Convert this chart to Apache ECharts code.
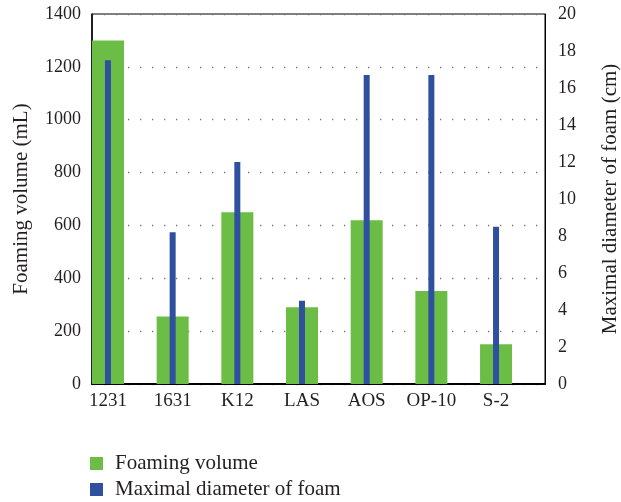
<!DOCTYPE html>
<html>
<head>
<meta charset="utf-8">
<script src="https://cdn.jsdelivr.net/npm/echarts@6/dist/echarts.min.js"></script>
<style>
  html, body { margin: 0; padding: 0; background: #fff; }
  #chart { width: 621px; height: 502px; }
</style>
</head>
<body>
<div id="chart"></div>
<script>
// Surfactant foaming tests
const categories = ['1231', '1631', 'K12', 'LAS', 'AOS', 'OP-10', 'S-2'];
const foamingVolume = [1300, 255, 650, 290, 620, 352, 150];      // mL
const maxDiameter = [17.5, 8.2, 12.0, 4.5, 16.7, 16.7, 8.5];     // cm
const leftTicks = [0, 1400, 200];
const rightTicks = [0, 20, 2];

const FONT = '"Liberation Serif", "DejaVu Serif", serif';
const TXT = '#231f20';
const GREEN = '#6cbd45';
const BLUE = '#2f4f9f';

const idx = categories.map((_, i) => i);
const xRange = { min: -0.247, max: 6.757 };

const chart = echarts.init(document.getElementById('chart'), null, { renderer: 'canvas' });
chart.setOption({
  animation: false,
  backgroundColor: '#fff',
  textStyle: { fontFamily: FONT, color: TXT },
  grid: {
    left: 92, right: 76, top: 14, bottom: 118,
    outerBoundsMode: 'none', containLabel: false,
    show: true, borderColor: '#000', borderWidth: 1, backgroundColor: 'transparent'
  },
  legend: {
    orient: 'vertical', left: 90, top: 453, padding: 0,
    itemWidth: 13, itemHeight: 13, itemGap: 5,
    icon: 'rect',
    textStyle: { fontFamily: FONT, fontSize: 21, lineHeight: 21, color: TXT, padding: [0, 0, 0, 7] },
    data: ['Foaming volume', 'Maximal diameter of foam']
  },
  xAxis: [
    {
      type: 'value', min: xRange.min, max: xRange.max,
      axisLine: { show: true, onZero: false, lineStyle: { color: '#000', width: 2 } },
      axisTick: { show: false },
      splitLine: { show: false },
      axisLabel: {
        customValues: idx,
        formatter: v => categories[Math.round(v)],
        fontFamily: FONT, fontSize: 19, color: TXT, margin: 8
      }
    },
    {
      type: 'value', min: xRange.min, max: xRange.max, show: false,
      axisLine: { show: false, onZero: false },
      splitLine: { show: false }
    }
  ],
  yAxis: [
    {
      type: 'value', min: leftTicks[0], max: leftTicks[1], interval: leftTicks[2],
      name: 'Foaming volume (mL)', nameLocation: 'middle', nameGap: 60,
      nameTextStyle: { fontFamily: FONT, fontSize: 21, color: TXT },
      axisLine: { show: true, onZero: false, lineStyle: { color: '#000', width: 1.5 } },
      axisTick: { show: false },
      axisLabel: { fontFamily: FONT, fontSize: 18, color: TXT, margin: 11, formatter: v => String(v) },
      splitLine: { show: true, lineStyle: { color: '#777', width: 1.3, type: [1.3, 10.7] } }
    },
    {
      type: 'value', min: rightTicks[0], max: rightTicks[1], interval: rightTicks[2],
      position: 'right',
      name: 'Maximal diameter of foam (cm)', nameLocation: 'middle', nameGap: 55,
      nameRotate: 90,
      nameTextStyle: { fontFamily: FONT, fontSize: 21, color: TXT },
      axisLine: { show: true, onZero: false, lineStyle: { color: '#000', width: 1 } },
      axisTick: { show: false },
      axisLabel: { fontFamily: FONT, fontSize: 18, color: TXT, margin: 13, formatter: v => String(v) },
      splitLine: { show: false }
    }
  ],
  series: [
    {
      name: 'Foaming volume', type: 'bar',
      xAxisIndex: 0, yAxisIndex: 0, barWidth: 32,
      itemStyle: { color: GREEN },
      data: foamingVolume.map((v, i) => [i, v])
    },
    {
      name: 'Maximal diameter of foam', type: 'bar',
      xAxisIndex: 1, yAxisIndex: 1, barWidth: 6,
      itemStyle: { color: BLUE },
      data: maxDiameter.map((v, i) => [i, v])
    }
  ]
});
</script>
</body>
</html>
